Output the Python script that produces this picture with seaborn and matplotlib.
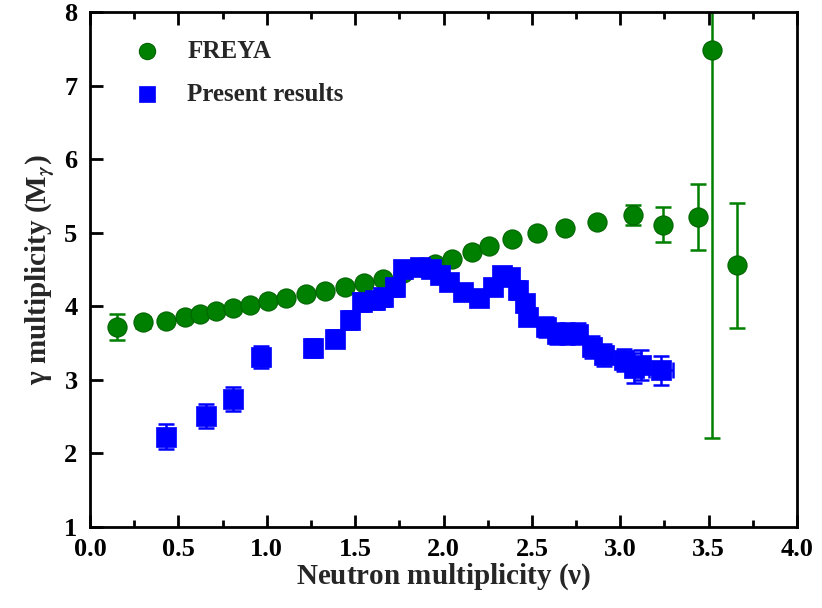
import numpy as np
import pandas as pd
import matplotlib
matplotlib.use("Agg")
import matplotlib.pyplot as plt
import seaborn as sns

# FREYA data
freya_nu = [0.15, 0.30, 0.43, 0.54, 0.62, 0.71, 0.81, 0.905, 1.007, 1.11, 1.22, 1.33,
            1.44, 1.55, 1.66, 1.77, 1.88, 1.95, 2.05, 2.16, 2.26, 2.385, 2.53, 2.69,
            2.87, 3.07, 3.24, 3.44, 3.52, 3.66]
freya_m = [3.72, 3.78, 3.80, 3.86, 3.89, 3.93, 3.97, 4.02, 4.07, 4.11, 4.17, 4.21,
           4.26, 4.32, 4.37, 4.45, 4.53, 4.57, 4.64, 4.74, 4.82, 4.92, 4.99, 5.06,
           5.15, 5.24, 5.11, 5.21, 7.49, 4.56]
freya_err = [0.18, 0.08, 0.04, 0.04, 0.04, 0.04, 0.04, 0.04, 0.04, 0.04, 0.04, 0.04,
             0.04, 0.04, 0.04, 0.04, 0.04, 0.04, 0.04, 0.04, 0.04, 0.04, 0.04, 0.04,
             0.05, 0.14, 0.235, 0.45, 5.28, 0.85]

# Present results
pres_nu = [0.43, 0.656, 0.81, 0.97, 1.26, 1.386, 1.47, 1.537, 1.61, 1.66, 1.725, 1.77,
           1.866, 1.93, 1.98, 2.03, 2.11, 2.20, 2.28, 2.33, 2.375, 2.42, 2.46, 2.48,
           2.58, 2.64, 2.70, 2.76, 2.84, 2.91, 3.02, 3.08, 3.12, 3.23]
pres_m = [2.23, 2.51, 2.74, 3.31, 3.43, 3.56, 3.81, 4.06, 4.08, 4.12, 4.26, 4.51,
          4.54, 4.50, 4.42, 4.33, 4.20, 4.11, 4.26, 4.42, 4.40, 4.22, 4.04, 3.86,
          3.72, 3.63, 3.63, 3.63, 3.45, 3.34, 3.27, 3.16, 3.20, 3.13]
pres_err = [0.17, 0.16, 0.16, 0.15, 0.12, 0.12, 0.12, 0.12, 0.12, 0.12, 0.12, 0.10,
            0.08, 0.08, 0.08, 0.10, 0.10, 0.08, 0.10, 0.10, 0.10, 0.12, 0.12, 0.12,
            0.14, 0.14, 0.14, 0.14, 0.15, 0.15, 0.15, 0.20, 0.20, 0.20]
pres_xerr = [0.02] * 33 + [0.07]

x_ticks = [0.0, 0.5, 1.0, 1.5, 2.0, 2.5, 3.0, 3.5, 4.0]
x_minor = [0.25, 0.75, 1.25, 1.75, 2.25, 2.75, 3.25, 3.75]
y_ticks = [1, 2, 3, 4, 5, 6, 7, 8]

sns.set_style("ticks")
plt.rcParams.update({
    'font.family': ['Liberation Serif', 'DejaVu Serif'],
    'font.weight': 'bold',
    'mathtext.fontset': 'stix',
    'xtick.color': 'black', 'ytick.color': 'black',
})

df_f = pd.DataFrame({"nu": freya_nu, "M": freya_m, "err": freya_err})
df_p = pd.DataFrame({"nu": pres_nu, "M": pres_m, "err": pres_err, "xerr": pres_xerr})

rect = [0.1095, 0.1332, 0.8601, 0.8471]
fig = plt.figure(figsize=(8.22, 6.08), dpi=100)
ax = fig.add_axes(rect)

green = "#008000"
blue = "#0000FF"

ax.errorbar(df_f["nu"], df_f["M"], yerr=df_f["err"], fmt="none", ecolor=green,
            elinewidth=1.8, capsize=6, capthick=1.8, zorder=2)
ax.errorbar(df_p["nu"], df_p["M"], yerr=df_p["err"], xerr=df_p["xerr"], fmt="none",
            ecolor=blue, elinewidth=1.8, capsize=6, capthick=1.8, zorder=2)

sns.scatterplot(data=df_f, x="nu", y="M", ax=ax, marker="o", s=190, color=green,
                edgecolor="#006400", linewidth=0.8, zorder=3, label="FREYA")
sns.scatterplot(data=df_p, x="nu", y="M", ax=ax, marker="s", s=190, color=blue,
                edgecolor=blue, linewidth=0.5, zorder=3, label="Present results")

ax.set_xlim(0, 4.0)
ax.set_ylim(1, 8)
ax.set_xlabel("")
ax.set_ylabel("")
ax.tick_params(axis="both", which="both", length=0, labelbottom=False,
               labelleft=False, labeltop=False, labelright=False)
for sp in ax.spines.values():
    sp.set_visible(False)

leg = ax.legend(loc="upper left", bbox_to_anchor=(0.014, 0.99), frameon=False,
                prop={"family": "Liberation Serif", "weight": "bold", "size": 18},
                handletextpad=0.6, labelspacing=0.8, markerscale=0.85)

# frame, ticks and labels on a transparent overlay axes with the same limits
ax2 = fig.add_axes(rect, zorder=5)
ax2.patch.set_visible(False)
ax2.set_xlim(0, 4.0)
ax2.set_ylim(1, 8)
ax2.set_xticks(x_ticks)
ax2.set_xticklabels([f"{v:.1f}" for v in x_ticks])
ax2.set_xticks(x_minor, minor=True)
ax2.set_yticks(y_ticks)
ax2.set_yticklabels([str(v) for v in y_ticks])
ax2.tick_params(axis="x", which="major", direction="in", length=9, width=2,
                color="black", labelsize=19, bottom=True, top=True, pad=8)
ax2.tick_params(axis="x", which="minor", direction="in", length=5, width=2,
                color="black", bottom=True, top=True)
ax2.tick_params(axis="y", which="major", direction="in", length=9, width=2,
                color="black", labelsize=19, left=True, right=False, pad=9)
ax2.tick_params(axis="y", which="minor", left=False, right=False)
for lab in ax2.get_xticklabels() + ax2.get_yticklabels():
    lab.set_fontweight("bold")
for sp in ax2.spines.values():
    sp.set_visible(True)
    sp.set_linewidth(2)
    sp.set_color("black")

ax2.set_xlabel(r"Neutron multiplicity $\mathregular{(\nu)}$", fontsize=21,
               fontweight="bold", labelpad=0)
ax2.set_ylabel("\u03b3 multiplicity (M$_\\gamma$)", fontsize=21, fontweight="bold",
               labelpad=6)

fig.savefig("out.png", dpi=100)
